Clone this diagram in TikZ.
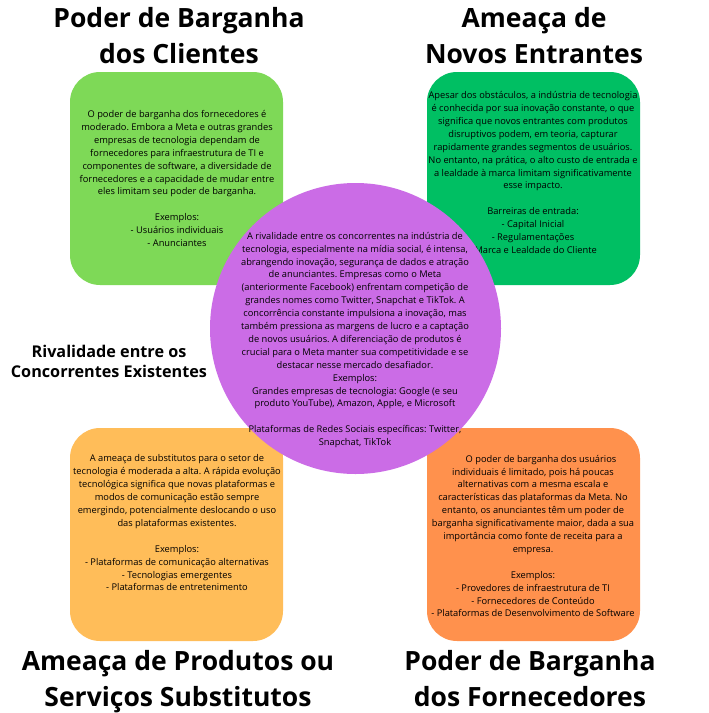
\documentclass[tikz,border=0pt]{standalone}
\usepackage{fontspec}
\setmainfont{Open Sans}
\frenchspacing
\definecolor{cgreenL}{HTML}{7ED957}
\definecolor{cgreen}{HTML}{00BF63}
\definecolor{corangeL}{HTML}{FFBD59}
\definecolor{corange}{HTML}{FF914D}
\definecolor{cpurple}{HTML}{CB6CE6}
\begin{document}
\begin{tikzpicture}[x=1pt,y=-1pt,
  panel/.style={draw=none, rounded corners=30pt, minimum width=213pt, minimum height=213pt, inner sep=0pt},
  body/.style={font=\fontsize{9.3}{12.9}\selectfont, align=center, text=black, inner sep=0pt},
  bigtitle/.style={font=\fontsize{26.5}{36}\bfseries\selectfont, align=center, text=black, inner sep=0pt},
  midtitle/.style={font=\fontsize{16.2}{20}\bfseries\selectfont, align=center, text=black, inner sep=0pt}]
\useasboundingbox (0,0) rectangle (709,713);
\fill[white] (0,0) rectangle (709,713);
% panels
\node[panel, fill=cgreenL] (tl) at (176.5,178.5) {};
\node[panel, fill=cgreen] (tr) at (533.5,178.5) {};
\node[panel, fill=corangeL] (bl) at (176.5,534.5) {};
\node[panel, fill=corange] (br) at (533.5,534.5) {};
% panel texts
\node[body] (tltxt) at (177,178.5) {O poder de barganha dos fornecedores é\\moderado. Embora a Meta e outras grandes\\empresas de tecnologia dependam de\\fornecedores para infraestrutura de TI e\\componentes de software, a diversidade de\\fornecedores e a capacidade de mudar entre\\eles limitam seu poder de barganha.\\[12.9pt]Exemplos:\\- Usuários individuais\\- Anunciantes};
\node[body] (trtxt) at (533,172.5) {Apesar dos obstáculos, a indústria de tecnologia\\é conhecida por sua inovação constante, o que\\significa que novos entrantes com produtos\\disruptivos podem, em teoria, capturar\\rapidamente grandes segmentos de usuários.\\No entanto, na prática, o alto custo de entrada e\\a lealdade à marca limitam significativamente\\esse impacto.\\[12.9pt]Barreiras de entrada:\\- Capital Inicial\\- Regulamentações\\- Marca e Lealdade do Cliente};
\node[body] (bltxt) at (177,523) {A ameaça de substitutos para o setor de\\tecnologia é moderada a alta. A rápida evolução\\tecnológica significa que novas plataformas e\\modos de comunicação estão sempre\\emergindo, potencialmente deslocando o uso\\das plataformas existentes.\\[12.9pt]Exemplos:\\- Plataformas de comunicação alternativas\\- Tecnologias emergentes\\- Plataformas de entretenimento};
\node[body] (brtxt) at (533,536) {\hspace*{16pt}O poder de barganha dos usuários\\individuais é limitado, pois há poucas\\alternativas com a mesma escala e\\características das plataformas da Meta. No\\entanto, os anunciantes têm um poder de\\barganha significativamente maior, dada a sua\\importância como fonte de receita para a\\empresa.\\[12.9pt]Exemplos:\\- Provedores de infraestrutura de TI\\- Fornecedores de Conteúdo\\- Plataformas de Desenvolvimento de Software};
% central circle
\node[circle, fill=cpurple, minimum size=291pt, inner sep=0pt] (mid) at (355.5,328.5) {};
\node[body] (midtxt) at (355,340) {A rivalidade entre os concorrentes na indústria de\\tecnologia, especialmente na mídia social, é intensa,\\abrangendo inovação, segurança de dados e atração\\de anunciantes. Empresas como o Meta\\(anteriormente Facebook) enfrentam competição de\\grandes nomes como Twitter, Snapchat e TikTok. A\\concorrência constante impulsiona a inovação, mas\\também pressiona as margens de lucro e a captação\\de novos usuários. A diferenciação de produtos é\\crucial para o Meta manter sua competitividade e se\\destacar nesse mercado desafiador.\\Exemplos:\\Grandes empresas de tecnologia: Google (e seu\\produto YouTube), Amazon, Apple, e Microsoft\\[12.9pt]Plataformas de Redes Sociais específicas: Twitter,\\Snapchat, TikTok};
% titles (anchor = baseline of last line)
\node[bigtitle, anchor=base] (t1) at (179,63) {Poder de Barganha\\dos Clientes};
\node[bigtitle, anchor=base] (t2) at (534,63) {Ameaça de\\Novos Entrantes};
\node[bigtitle, anchor=base] (t3) at (178,706) {Ameaça de Produtos ou\\Serviços Substitutos};
\node[bigtitle, anchor=base] (t4) at (530,706) {Poder de Barganha\\dos Fornecedores};
\node[midtitle, anchor=base] (t5) at (109,377) {Rivalidade entre os\\Concorrentes Existentes};
\end{tikzpicture}
\end{document}
